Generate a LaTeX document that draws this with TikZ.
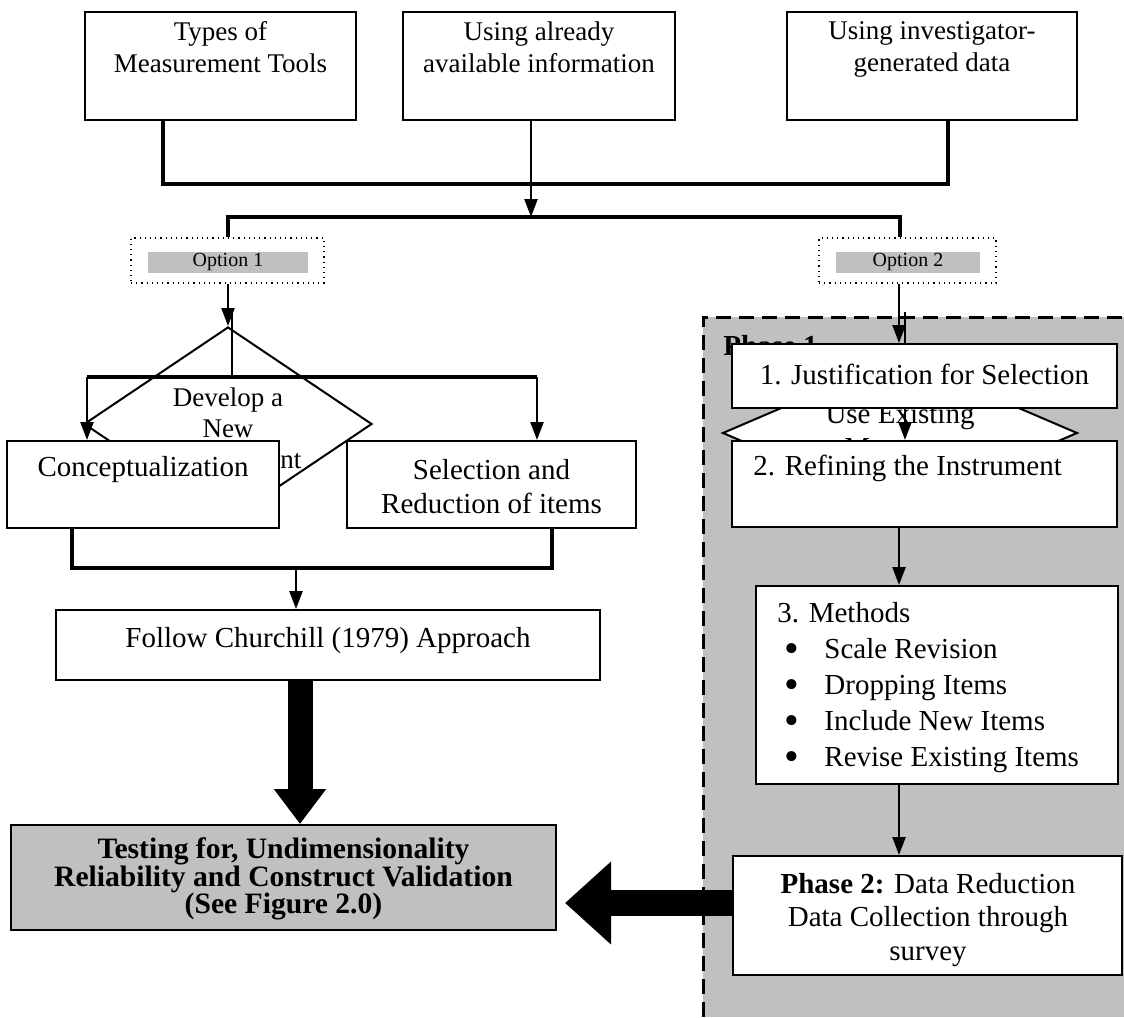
\documentclass[tikz,border=0pt]{standalone}
\usepackage{fontspec}
\setmainfont{Liberation Serif}
\usetikzlibrary{arrows.meta,calc,positioning,shapes.geometric}
\definecolor{boxgray}{RGB}{192,192,192}
\newcommand{\mbul}{\hspace*{3.5pt}\makebox[20pt][l]{\smash{\raisebox{-2.2pt}{\scalebox{1.45}{\textbullet}}}}}
\tikzset{
  box/.style={draw,line width=1pt,fill=white,inner sep=0pt},
  txt/.style={align=center,inner sep=0pt,font=\fontsize{14.5}{16.75}\selectfont},
  small/.style={align=center,inner sep=0pt,font=\fontsize{13.5}{16}\selectfont},
  optbox/.style={draw,dotted,line width=0.6pt,inner sep=0pt},
  optlbl/.style={fill=boxgray,inner sep=0pt,font=\fontsize{10}{12}\selectfont},
  conn/.style={line width=1.2pt},
  bus/.style={line width=2pt},
  arr/.style={line width=1.2pt,-{Triangle[length=9pt,width=6.5pt]}},
  fatdown/.style={line width=12.5pt,-{Triangle[length=17.5pt,width=25pt]}},
  fatleft/.style={line width=13pt,-{Triangle[length=23pt,width=40pt]}},
}
\begin{document}
\begin{tikzpicture}[x=0.5pt,y=-0.5pt]
\useasboundingbox (0,0) rectangle (1124,1017);

% top row
\node[box,minimum width=135.5pt,minimum height=54pt] (tools) at (220.5,66) {};
\node[box,minimum width=136pt,minimum height=54pt] (avail) at (539,66) {};
\node[box,minimum width=145pt,minimum height=54pt] (invest) at (932,66) {};
\node[small,anchor=north] (toolst) at (220.5,21) {Types of\\Measurement Tools};
\node[small,anchor=north] (availt) at (539,21) {Using already\\available information};
\node[small,anchor=north] (investt) at (932,21) {Using investigator-\\generated data};

\coordinate (j1) at (163,184);
\coordinate (j2) at (948,184);
\coordinate (j3) at (531,217);
\draw[conn,line width=1.6pt] (tools.south -| j1) -- (j1) -- (j2) -- (invest.south -| j2);
\draw[arr] (avail.south -| j3) -- (j3);

% options
\node[optbox,minimum width=96.5pt,minimum height=22.5pt] (opt1) at (227.5,260.5) {};
\node[optbox,minimum width=88.5pt,minimum height=22.5pt] (opt2) at (907.5,260.5) {};
\node[optlbl,minimum width=80pt,minimum height=10.5pt] (opt1t) at (228,262.5) {Option 1};
\node[optlbl,minimum width=72pt,minimum height=10.5pt] (opt2t) at (908,262.5) {Option 2};
\coordinate (b1) at (228,217);
\coordinate (b2) at (900,217);
\draw[bus] (opt1.north -| b1) -- (b1) -- (b2) -- (opt2.north -| b2);

% phase 1 area
\fill[boxgray] (703,317) rectangle (1124,1017);
\draw[line width=1.5pt,dash pattern=on 7.5pt off 4pt] (703,1017) -- (703,317) -- (1124,317);
\node[anchor=west,inner sep=0pt,font=\fontsize{14.5}{16.75}\selectfont\bfseries] (ph1) at (723,346) {Phase 1};

% option 1 branch
\node[diamond,draw,line width=1pt,minimum width=144pt,minimum height=97pt,inner sep=0pt] (newm) at (228,424) {};
\node[small,font=\fontsize{13.5}{15.5}\selectfont] (newmt) at (228,428) {Develop a\\New\\Measurement};
\draw[arr] (opt1.south -| newm.north) -- (newm.north);
\coordinate (d1) at (232,313);
\coordinate (br1) at (87,377);
\coordinate (br2) at (537,377);
\draw[conn] (d1) -- (d1 |- br1);
\draw[bus] (br1) -- (br2);
\node[box,minimum width=136pt,minimum height=43.5pt] (concept) at (143,484.5) {};
\node[box,minimum width=144.5pt,minimum height=43.5pt] (select) at (491.5,484.5) {};
\node[txt] (conceptt) at (143,470) {Conceptualization};
\node[txt] (selectt) at (491.5,486.5) {Selection and\\Reduction of items};
\draw[arr] (br1) -- (concept.north -| br1);
\draw[arr] (br2) -- (select.north -| br2);

\coordinate (m1) at (72,568);
\coordinate (m2) at (552,568);
\coordinate (m3) at (296,568);
\draw[bus] (concept.south -| m1) -- (m1) -- (m2) -- (select.south -| m2);
\node[box,minimum width=272pt,minimum height=35pt] (church) at (328,645) {};
\node[txt] (churcht) at (328,641) {Follow Churchill (1979) Approach};
\draw[arr] (m3) -- (church.north -| m3);

\node[box,fill=boxgray,minimum width=272.5pt,minimum height=52.5pt] (testing) at (283.5,877.5) {};
\node[txt,font=\fontsize{14.8}{13.6}\selectfont\bfseries] (testingt) at (283.5,879) {Testing for, Undimensionality\\Reliability and Construct Validation\\(See Figure 2.0)};
\coordinate (f1) at (300,0);
\draw[fatdown] (church.south -| f1) -- (testing.north -| f1);

% option 2 branch
\draw[line width=1pt,fill=white] (723,433) -- (828,388) -- (972,388) -- (1077,433) -- (972,478) -- (828,478) -- cycle;
\node[txt] (usemt) at (900,431) {Use Existing\\Measures};
\coordinate (h1) at (905,312);
\node[box,minimum width=192.5pt,minimum height=43pt] (refine) at (924.5,484) {};
\draw[arr] (h1) -- (refine.north -| h1);
\node[box,minimum width=192.5pt,minimum height=32pt] (justify) at (924.5,376) {};
\node[txt] (justifyt) at (924.5,374) {1. Justification for Selection};
\node[txt,anchor=west] (refinet) at (753,468) {2. Refining the Instrument};
\coordinate (o2) at (899,0);
\draw[arr] (opt2.south -| o2) -- (justify.north -| o2);

\node[box,minimum width=181pt,minimum height=99pt] (methods) at (937,685) {};
\node[txt,align=left,anchor=north west,font=\fontsize{14.5}{18}\selectfont] (methodst) at (777,602)
  {3. Methods\\
   \mbul Scale Revision\\
   \mbul Dropping Items\\
   \mbul Include New Items\\
   \mbul Revise Existing Items};
\draw[arr] (refine.south -| o2) -- (methods.north -| o2);

\node[box,minimum width=194.5pt,minimum height=59.5pt] (phase2) at (927.5,915.5) {};
\node[txt] (phase2t) at (928,920) {\textbf{Phase 2:} Data Reduction\\Data Collection through\\survey};
\draw[arr] (methods.south -| o2) -- (phase2.north -| o2);

\coordinate (f2) at (0,903);
\draw[fatleft,shorten >=4pt] (phase2.west |- f2) -- (testing.east |- f2);
\end{tikzpicture}
\end{document}
